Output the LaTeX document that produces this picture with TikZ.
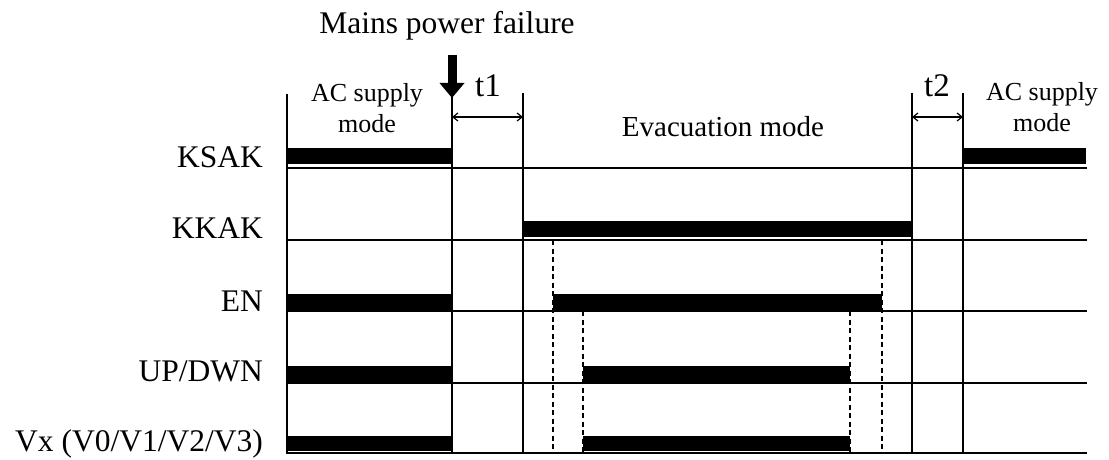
\documentclass[tikz,border=0pt]{standalone}
\usepackage{fontspec}
\setmainfont{Liberation Serif}
\usetikzlibrary{arrows.meta}
\begin{document}
\begin{tikzpicture}[x=1pt,y=-1pt,
  sig/.style={line width=1.6pt},
  vline/.style={line width=1.8pt},
  dline/.style={line width=1.6pt, dash pattern=on 5pt off 3.5pt},
  lab/.style={anchor=base east, inner sep=0pt, font=\fontsize{31.5}{33}\selectfont},
  modetxt/.style={anchor=base, inner sep=0pt, font=\fontsize{26}{28}\selectfont},
  dim/.style={line width=1.2pt, {Straight Barb[length=5pt,width=8pt]}-{Straight Barb[length=5pt,width=8pt]}},
]
\useasboundingbox (0,0) rectangle (1109,460);

% labels
\node[lab] (ksak) at (263,167) {KSAK};
\node[lab] (kkak) at (263,238) {KKAK};
\node[lab] (en) at (263,311) {EN};
\node[lab] (updwn) at (263,381) {UP/DWN};
\node[lab] (vx) at (263,451) {Vx (V0/V1/V2/V3)};

\node[anchor=base, inner sep=0pt, font=\fontsize{31.5}{33}\selectfont] (mpf) at (447,34) {Mains power failure};
\node[modetxt] (ac1a) at (367,102) {AC supply};
\node[modetxt] (ac1b) at (367,132) {mode};
\node[modetxt] (ac2a) at (1042,100) {AC supply};
\node[modetxt] (ac2b) at (1042,131) {mode};
\node[anchor=base, inner sep=0pt, font=\fontsize{29}{31}\selectfont] (evac) at (723,136) {Evacuation mode};
\node[anchor=base, inner sep=0pt, font=\fontsize{33}{35}\selectfont] (t1) at (488,96) {t1};
\node[anchor=base, inner sep=0pt, font=\fontsize{33}{35}\selectfont] (t2) at (937,96) {t2};

% baselines
\foreach \y/\n in {168/a,240/b,311/c,383/d,453/e}{
  \coordinate (L\n) at (287,\y);
  \coordinate (R\n) at (1087,\y);
  \draw[sig] (L\n) -- (R\n);
}

% bars
\fill (287,148) rectangle (452,164);
\fill (963,148) rectangle (1086,164);
\fill (523,221) rectangle (912,237);
\fill (287,294) rectangle (452,310);
\fill (553,294) rectangle (882,310);
\fill (287,366) rectangle (452,382);
\fill (583,366) rectangle (850,382);
\fill (287,436) rectangle (452,451);
\fill (583,436) rectangle (850,451);

% vertical lines
\foreach \x/\n/\t in {287/p/94,452/q/96,523/r/93,912/s/93,963/u/93}{
  \coordinate (T\n) at (\x,\t);
  \coordinate (B\n) at (\x,454);
  \draw[vline] (T\n) -- (B\n);
}

% dashed lines
\foreach \x/\t/\n in {553/240/1,882/240/2,583/311/3,850/311/4}{
  \coordinate (DT\n) at (\x,\t);
  \coordinate (DB\n) at (\x,454);
  \draw[dline] (DT\n) -- (DB\n);
}

% power failure arrow
\coordinate (pfa) at (452,55);
\coordinate (pfb) at (452,98);
\draw[line width=9pt,-{Triangle[length=15pt,width=24pt]}] (pfa) -- (pfb);

% t1 t2 dimension arrows
\coordinate (d1a) at (452,117);
\coordinate (d1b) at (523,117);
\coordinate (d2a) at (912,117);
\coordinate (d2b) at (963,117);
\draw[dim] (d1a) -- (d1b);
\draw[dim] (d2a) -- (d2b);
\end{tikzpicture}
\end{document}
